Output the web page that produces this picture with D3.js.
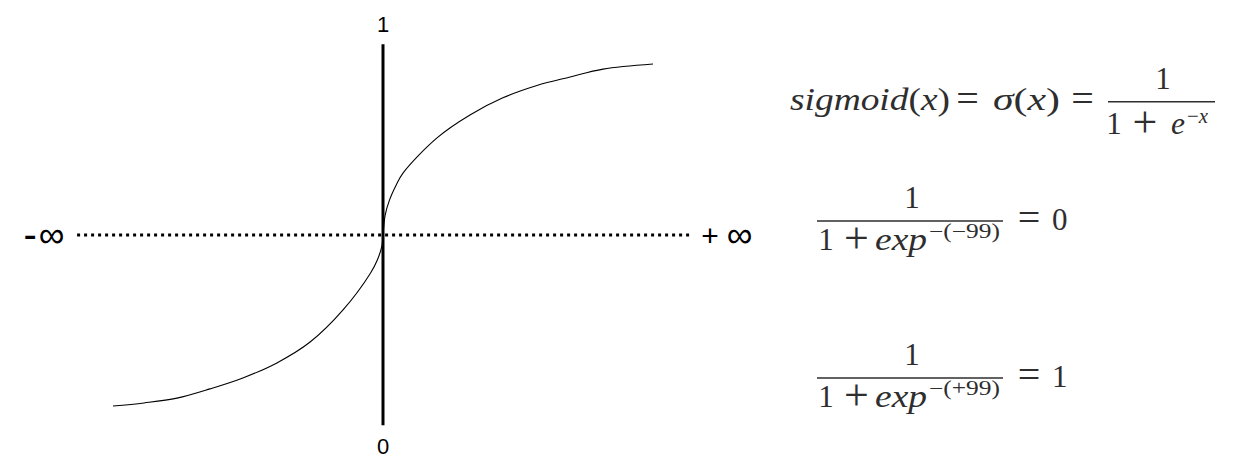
<!DOCTYPE html>
<html>
<head>
<meta charset="utf-8">
<script src="https://cdn.jsdelivr.net/npm/d3@7"></script>
<style>
  html, body { margin: 0; padding: 0; background: #fff; }
  svg { display: block; }
  .math { font-family: 'Liberation Serif', 'Times New Roman', serif; }
  .lbl { font-family: 'Liberation Sans', Arial, sans-serif; }
</style>
</head>
<body>
<svg id="chart" width="1254" height="475"></svg>
<script>
// ---- data ----
const curveX = [-1, -0.885, -0.763, -0.641, -0.519, -0.393, -0.270, -0.148, -0.046, -0.021, -0.004, 0, 0.008, 0.024, 0.049, 0.074, 0.2, 0.322, 0.444, 0.570, 0.693, 0.815, 1];
const curveY = [0, 0.009, 0.023, 0.05, 0.082, 0.126, 0.187, 0.281, 0.389, 0.427, 0.468, 0.5, 0.558, 0.602, 0.646, 0.681, 0.784, 0.851, 0.901, 0.937, 0.962, 0.985, 1];
const yAxisExtent = [-0.056, 1.058];
const xAxisExtent = [-1.133, 1.137];
const yTickLabels = ["0", "1"];
const xEndSigns = ["-", "+"];
const infinity = "\u221E";
const baseline = 0.5;

const svg = d3.select("#chart");
const x = d3.scaleLinear().domain([-1, 1]).range([113, 653]);
const y = d3.scaleLinear().domain([0, 1]).range([406, 64]);

// dotted horizontal line
svg.append("line")
  .attr("x1", x(xAxisExtent[0])).attr("x2", x(xAxisExtent[1]))
  .attr("y1", y(baseline)).attr("y2", y(baseline))
  .attr("stroke", "#000").attr("stroke-width", 3)
  .attr("stroke-dasharray", "3,4");

// vertical axis
svg.append("line")
  .attr("x1", x(0)).attr("x2", x(0))
  .attr("y1", y(yAxisExtent[0])).attr("y2", y(yAxisExtent[1]))
  .attr("stroke", "#000").attr("stroke-width", 3);

// curve
const pts = curveX.map((v, i) => [v, curveY[i]]);
svg.append("path")
  .datum(pts)
  .attr("fill", "none")
  .attr("stroke", "#000")
  .attr("stroke-width", 1.1)
  .attr("d", d3.line().x(d => x(d[0])).y(d => y(d[1])).curve(d3.curveCatmullRom.alpha(0.5)));

// axis labels
svg.append("text").attr("class", "lbl").text(yTickLabels[1])
  .attr("x", x(0)).attr("y", 32).attr("text-anchor", "middle").attr("font-size", 22);
svg.append("text").attr("class", "lbl").text(yTickLabels[0])
  .attr("x", x(0)).attr("y", 454).attr("text-anchor", "middle").attr("font-size", 22);

const yb = y(baseline);
// left: -∞
svg.append("text").attr("class", "lbl").text(xEndSigns[0])
  .attr("x", x(xAxisExtent[0]) - 47).attr("y", yb + 13).attr("text-anchor", "middle").attr("font-size", 40);
svg.append("text").attr("class", "lbl").text(infinity)
  .attr("x", x(xAxisExtent[0]) - 25.5).attr("y", yb + 12).attr("text-anchor", "middle").attr("font-size", 36);
// right: +∞
svg.append("text").attr("class", "lbl").text(xEndSigns[1])
  .attr("x", x(xAxisExtent[1]) + 20).attr("y", yb + 10.5).attr("text-anchor", "middle").attr("font-size", 30);
svg.append("text").attr("class", "lbl").text(infinity)
  .attr("x", x(xAxisExtent[1]) + 49.5).attr("y", yb + 12).attr("text-anchor", "middle").attr("font-size", 36);

// ---- formulas ----
const mathColor = "#2e2e2e";
const MS = 31;
function mtext(parts, xpos, ypos, size, opts = {}) {
  const t = svg.append("text").attr("class", "math")
    .attr("x", xpos).attr("y", ypos)
    .attr("font-size", size)
    .attr("fill", mathColor)
    .attr("text-anchor", opts.anchor || "start");
  if (opts.len) t.attr("textLength", opts.len).attr("lengthAdjust", "spacingAndGlyphs");
  parts.forEach(p => {
    t.append("tspan").text(p[0]).attr("font-style", p[1] ? "italic" : "normal");
  });
  return t;
}
function bar(x1, x2, yy) {
  svg.append("line").attr("x1", x1).attr("x2", x2).attr("y1", yy).attr("y2", yy)
    .attr("stroke", mathColor).attr("stroke-width", 1.4);
}
// relation/operator symbols centred on the math axis
function eq(cx, axis) { mtext([["=", false]], cx, axis + 10.2, 40, {anchor: "middle"}); }
function plus(cx, center) { mtext([["+", false]], cx, center + 11, 44, {anchor: "middle"}); }

// formula 1
const a1 = 101.7;
mtext([["sigmoid", true], ["(", false], ["x", true], [")", false]], 790, a1 + 8.5, MS, {len: 160});
eq(967.5, a1);
mtext([["\u03C3", true], ["(", false], ["x", true], [")", false]], 993, a1 + 8.5, MS, {len: 67});
eq(1082.5, a1);
bar(1108, 1215, a1);
mtext([["1", false]], 1163, a1 - 13, MS, {anchor: "middle"});
mtext([["1", false]], 1114, a1 + 32, MS, {anchor: "middle"});
plus(1145, a1 + 24);
mtext([["e", true]], 1171, a1 + 32, MS, {len: 14});
mtext([["\u2212", false], ["x", true]], 1187, a1 + 21, 21, {len: 21});

// formulas 2 and 3
const sups = ["\u2212(\u221299)", "\u2212(+99)"];
const results = ["0", "1"];
[221, 378].forEach((a, i) => {
  bar(817, 1003, a);
  mtext([["1", false]], 912, a - 13, MS, {anchor: "middle"});
  mtext([["1", false]], 826, a + 29, MS, {anchor: "middle"});
  plus(856.5, a + 21);
  mtext([["exp", true]], 875, a + 29, MS, {len: 52});
  mtext([[sups[i], false]], 929, a + 17, 20, {len: 71});
  eq(1029, a);
  mtext([[results[i], false]], 1052, a + 8.5, MS);
});
</script>
</body>
</html>
